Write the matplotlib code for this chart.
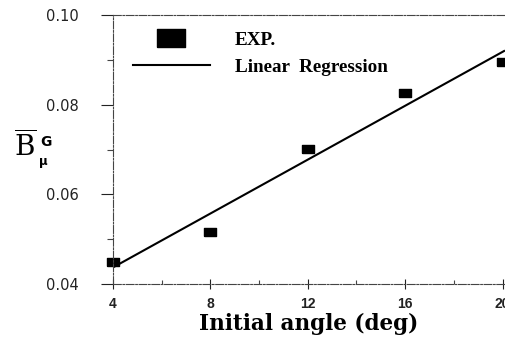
import numpy as np
import matplotlib
matplotlib.use("Agg")
import matplotlib.pyplot as plt
from matplotlib.ticker import MultipleLocator

plt.rcParams["mathtext.fontset"] = "dejavuserif"

# measured data
angle = [4, 8, 12, 16, 20]
b_mu = [0.0449, 0.0516, 0.0701, 0.0826, 0.0895]

x_ticks = [4, 8, 12, 16, 20]
y_ticks = [0.04, 0.06, 0.08, 0.10]

# least squares fit through the measurements
slope, intercept = np.polyfit(angle, b_mu, 1)
fit_x = np.array([4, 20.1])
fit_y = slope * fit_x + intercept

# flat rectangle marker, 3:2 aspect
rect = [(-1.5, -1), (1.5, -1), (1.5, 1), (-1.5, 1), (-1.5, -1)]

fig = plt.figure(figsize=(5.05, 3.44), dpi=100)
ax = fig.add_axes([113 / 505, 1 - 284 / 344, 392 / 505, 269 / 344])

ax.plot(fit_x, fit_y, color="black", lw=1.5, solid_capstyle="butt")
ax.plot(angle, b_mu, linestyle="none", marker=rect, markersize=8.6,
        color="black", clip_on=False)

ax.set_xlim(4, 20.1)
ax.set_ylim(0.04, 0.10)
ax.set_xticks(x_ticks)
ax.set_yticks(y_ticks)
ax.set_yticklabels([f"{v:.2f}" for v in y_ticks])
ax.xaxis.set_minor_locator(MultipleLocator(2))
ax.yaxis.set_minor_locator(MultipleLocator(0.01))

spine_style = dict(color="#444444", linewidth=0.8, linestyle=(0, (7, 1.5, 1.5, 1.5)))
for side in ("left", "top", "bottom"):
    ax.spines[side].set(**spine_style)
ax.spines["right"].set_visible(False)

ax.tick_params(axis="y", which="major", direction="out", length=9, width=0.8,
               pad=16, labelsize=10.5, colors="#222222")
ax.tick_params(axis="y", which="minor", direction="out", length=4, width=0.8,
               color="#444444")
ax.tick_params(axis="x", which="major", direction="inout", length=7, width=0.8,
               pad=6, labelsize=10, colors="#222222")
ax.tick_params(axis="x", which="minor", direction="in", length=3, width=0.8,
               color="#444444")
ax.tick_params(top=False, right=False)
for lbl in ax.get_xticklabels():
    lbl.set_fontweight("bold")
    lbl.set_fontfamily("Liberation Sans")
for lbl in ax.get_yticklabels():
    lbl.set_fontfamily("DejaVu Sans")

ax.set_xlabel("Initial angle (deg)", fontfamily="DejaVu Serif",
              fontweight="bold", fontsize=15.5, labelpad=1)

# y label: B with overline, superscript G and subscript mu
fig.text(14 / 505, 1 - 156 / 344, r"$\overline{\mathrm{B}}$", fontsize=20,
         ha="left", va="baseline")
fig.text(40 / 505, 1 - 146 / 344, "G", fontfamily="DejaVu Sans",
         fontweight="bold", fontsize=10, ha="left", va="baseline")
fig.text(39 / 505, 1 - 165 / 344, "μ", fontfamily="DejaVu Sans",
         fontweight="bold", fontsize=8.5, ha="left", va="baseline")

exp_handle = plt.Line2D([], [], linestyle="none", marker=rect, markersize=19.5,
                        color="black")
fit_handle = plt.Line2D([], [], color="black", lw=1.5)
ax.legend([exp_handle, fit_handle], ["EXP.", "Linear  Regression"],
          loc="upper left", bbox_to_anchor=(0.05, 0.94), frameon=False,
          prop={"family": "Liberation Serif", "weight": "bold", "size": 13.8},
          handlelength=4.05, handletextpad=1.3, labelspacing=0.5,
          borderpad=0, borderaxespad=0)

fig.savefig("out.png", dpi=100)
